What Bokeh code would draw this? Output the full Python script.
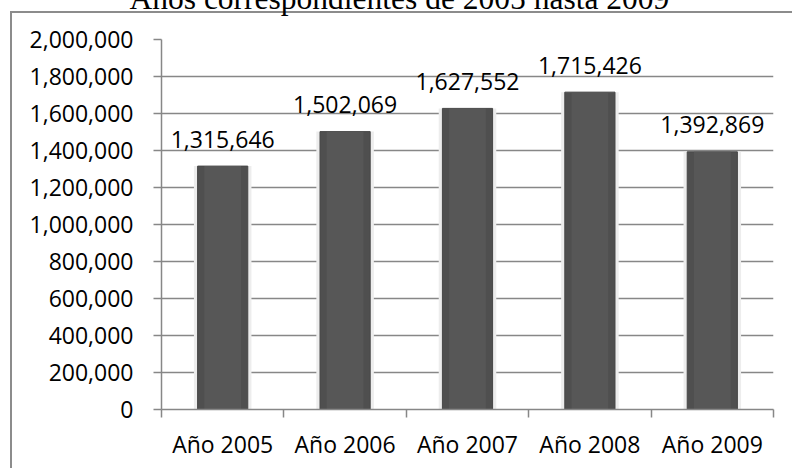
from bokeh.plotting import figure
from bokeh.models import (FixedTicker, NumeralTickFormatter, InlineStyleSheet,
                          ColumnDataSource, Range1d)
from bokeh.embed import file_html
from bokeh.resources import INLINE

# Data
years = ["Año 2005", "Año 2006", "Año 2007", "Año 2008", "Año 2009"]
totals = [1315646, 1502069, 1627552, 1715426, 1392869]
value_labels = ["1,315,646", "1,502,069", "1,627,552", "1,715,426", "1,392,869"]
title_text = "Años correspondientes de 2005 hasta 2009"

xpos = [i + 0.5 for i in range(len(years))]
src = ColumnDataSource(dict(x=xpos, top=totals, lab=value_labels))

FONT = "Open Sans"
GRID = "#878787"
BOX = "#8c8c8c"
SHIFT = 60  # canvas rows hidden above the page top (title runs off the edge)

p = figure(width=792, height=468 + SHIFT, output_backend="svg", toolbar_location=None,
           x_range=Range1d(0, len(years)), y_range=Range1d(0, 2000000),
           min_border_left=161, min_border_right=19,
           min_border_top=39 + SHIFT, min_border_bottom=59)
p.background_fill_color = "white"
p.border_fill_color = None
p.outline_line_color = None

# Title
p.title.text = title_text
p.title.align = "left"
p.title.offset = -32
p.title.standoff = 48
p.title.text_font = "Liberation Serif"
p.title.text_font_size = "31.5px"
p.title.text_font_style = "normal"
p.title.text_color = "black"

# Bars: soft halo, dark body, slightly lighter core
p.vbar(x="x", top="top", bottom=0, width=0.47, source=src,
       fill_color="#ededed", line_color=None)
p.vbar(x="x", top="top", bottom=0, width=0.41, source=src,
       fill_color="#4f4f4f", line_color="#474747", line_width=1)
p.vbar(x="x", top="top", bottom=0, width=0.30, source=src,
       fill_color="#575757", line_color=None)

# Value labels above bars
p.text(x="x", y="top", text="lab", source=src, text_align="center",
       text_baseline="alphabetic", y_offset=-27, text_font_size="23px",
       text_font={"value": FONT}, text_color="black")

# Y axis
ya = p.yaxis[0]
ya.ticker = FixedTicker(ticks=list(range(0, 2000001, 200000)))
ya.formatter = NumeralTickFormatter(format="0,0")
ya.axis_line_color = GRID
ya.axis_line_width = 1.5
ya.major_tick_line_color = GRID
ya.major_tick_line_width = 1.5
ya.major_tick_out = 8
ya.major_tick_in = 0
ya.minor_tick_line_color = None
ya.major_label_text_font = FONT
ya.major_label_text_font_size = "23px"
ya.major_label_text_color = "black"
ya.major_label_standoff = 20

# X axis: labels at centres, ticks at category boundaries
xa = p.xaxis[0]
xa.ticker = FixedTicker(ticks=xpos, minor_ticks=list(range(len(years) + 1)))
xa.major_label_overrides = {x: y for x, y in zip(xpos, years)}
xa.axis_line_color = GRID
xa.axis_line_width = 1.5
xa.major_tick_line_color = None
xa.minor_tick_line_color = GRID
xa.minor_tick_line_width = 1.5
xa.minor_tick_out = 8
xa.minor_tick_in = 0
xa.major_label_text_font = FONT
xa.major_label_text_font_size = "23px"
xa.major_label_text_color = "black"
xa.major_label_standoff = 10

p.xgrid.grid_line_color = None
p.ygrid.grid_line_color = GRID
p.ygrid.grid_line_width = 1.5
p.ygrid.ticker = ya.ticker

# Page placement; the chart box's left and top edges are painted behind the canvas
p.stylesheets.append(InlineStyleSheet(css=f"""
:host {{
  margin-top: -{SHIFT}px !important;
  background:
    linear-gradient({BOX}, {BOX}) 10px {SHIFT + 11}px / 100% 2px no-repeat,
    linear-gradient({BOX}, {BOX}) 10px {SHIFT + 11}px / 2px 100% no-repeat,
    white;
}}
"""))

open("out.html", "w").write(file_html(p, INLINE))
